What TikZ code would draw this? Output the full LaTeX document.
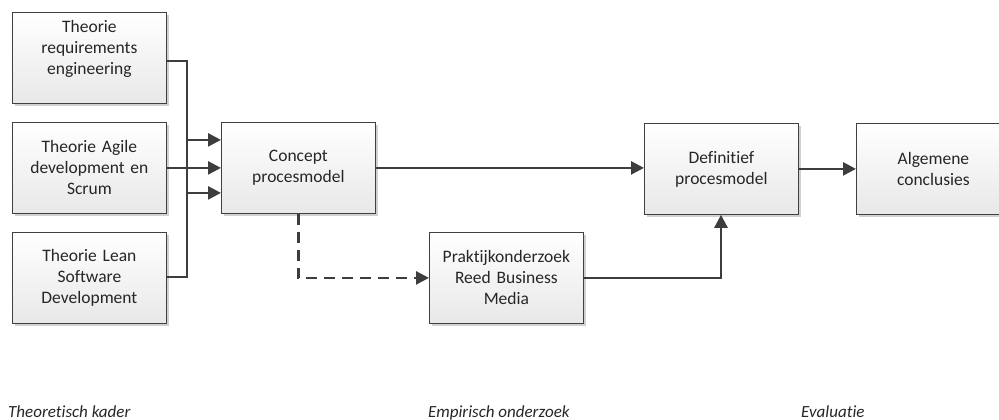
\documentclass[tikz,border=0pt]{standalone}
\usepackage{fontspec}
\setmainfont{Carlito}[Ligatures={NoCommon,NoRare}]
\usetikzlibrary{arrows.meta,shadows}
\begin{document}
\begin{tikzpicture}[x=1pt,y=-1pt,
  procbox/.style={draw=black!75, line width=0.8pt, top color=white, bottom color=black!9,
    minimum width=153pt, minimum height=91pt, anchor=north west, inner sep=2pt,
    text width=150pt, align=center, font=\fontsize{17.5}{21}\selectfont, text=black!85,
    drop shadow={shadow xshift=2.5pt, shadow yshift=-2.5pt, fill=black!18, opacity=1}},
  flow/.style={draw=black!76, line width=2.5pt, -{Triangle[length=13pt,width=13pt]}},
  dflow/.style={flow, dash pattern=on 11pt off 7pt},
  phase/.style={anchor=base west, font=\fontsize{17}{20}\selectfont\itshape, text=black!85, inner sep=0pt}]
\useasboundingbox (0,0) rectangle (999,420);

% theory inputs
\node[procbox] (req) at (12,12) {Theorie\\requirements\\engineering\\\mbox{}};
\node[procbox] (agile) at (12,122) {Theorie Agile\\development en\\Scrum};
\node[procbox] (lean) at (12,232) {Theorie Lean\\Software\\Development};

% process models
\node[procbox] (concept) at (221,122) {Concept\\procesmodel};
\node[procbox] (prak) at (429,232) {Praktijkonderzoek\\Reed Business\\Media};
\node[procbox] (def) at (644,123) {Definitief\\procesmodel};
\node[procbox] (alg) at (856,123) {Algemene\\conclusies};

% junction points
\coordinate (reqIn) at ([yshift=-25pt]concept.west);
\coordinate (leanIn) at ([yshift=28pt]concept.west);
\coordinate (defIn) at (721,0);

\draw[flow] ([yshift=-3pt]req.east) -| (187,0 |- reqIn) -- (reqIn);
\draw[flow] (agile.east) -- (concept.west);
\draw[flow] ([yshift=1pt]lean.east) -| (187,0 |- leanIn) -- (leanIn);
\draw[flow] (concept.east) -- (def.west |- concept.east);
\draw[dflow] (concept.south) |- (prak.west);
\draw[flow] (prak.east) -| (defIn |- def.south);
\draw[flow] (def.east) -- (alg.west);

% phase labels
\node[phase] (p1) at (8,417) {Theoretisch kader};
\node[phase] (p2) at (428,417) {Empirisch onderzoek};
\node[phase] (p3) at (801,417) {Evaluatie};
\end{tikzpicture}
\end{document}
